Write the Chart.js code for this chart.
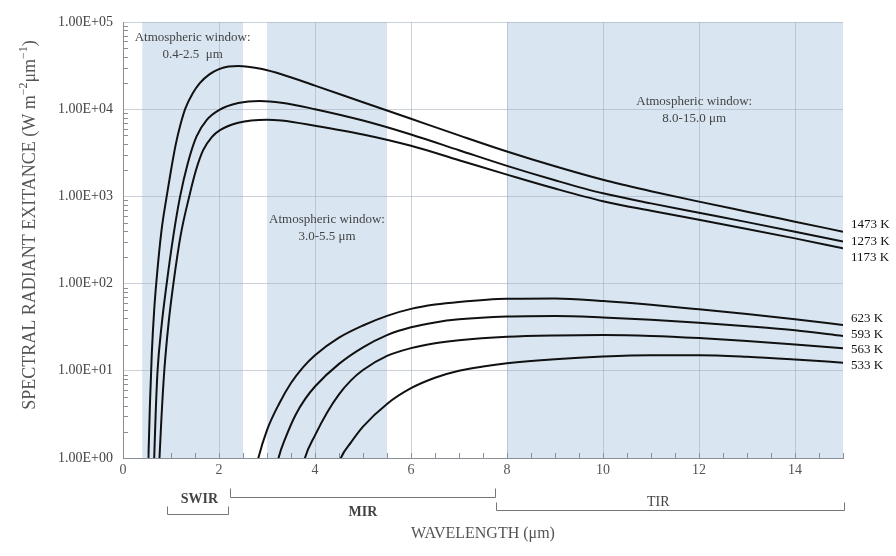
<!DOCTYPE html>
<html>
<head>
<meta charset="utf-8">
<script src="https://cdn.jsdelivr.net/npm/chart.js@4.4.1/dist/chart.umd.min.js"></script>
<style>
  body { margin: 0; background: #fff; }
  #wrap { width: 896px; height: 556px; }
</style>
</head>
<body>
<div id="wrap"><canvas id="chart" width="896" height="556"></canvas></div>
<script>
"use strict";

/* wavelength (um) and spectral radiant exitance */
var wl1473 = [0.50, 0.53, 0.56, 0.60, 0.65, 0.70, 0.80, 0.91, 1.00, 1.10, 1.20, 1.30, 1.45, 1.60, 1.80, 2.00, 2.20, 2.40, 2.60, 2.90, 3.30, 4.00, 5.00, 6.00, 7.00, 8.00, 9.00, 10.0, 11.0, 12.0, 13.0, 14.0, 15.0];
var m1473  = [0.25, 1, 3.98, 15.8, 50.1, 112, 398, 1000, 1995, 3981, 6761, 10230, 15140, 19950, 25120, 28840, 30900, 31260, 30760, 28840, 25120, 18620, 12020, 7762, 5012, 3273, 2213, 1549, 1148, 871, 668, 513, 394];

var wl1273 = [0.62, 0.65, 0.68, 0.72, 0.80, 0.91, 1.05, 1.19, 1.35, 1.53, 1.75, 2.00, 2.40, 2.85, 3.30, 4.00, 5.00, 6.00, 7.00, 8.00, 9.00, 10.0, 11.0, 12.0, 13.0, 14.0, 15.0];
var m1273  = [0.32, 1, 3.16, 10, 31.6, 100, 355, 1000, 2399, 4842, 7586, 9772, 11750, 12450, 11890, 10000, 7413, 5129, 3388, 2239, 1531, 1084, 832, 649, 507, 394, 303];

var wl1173 = [0.73, 0.76, 0.80, 0.86, 0.95, 1.05, 1.20, 1.38, 1.52, 1.67, 1.85, 2.02, 2.40, 3.00, 3.30, 4.00, 5.00, 6.00, 7.00, 8.00, 9.00, 10.0, 11.0, 12.0, 13.0, 14.0, 15.0];
var m1173  = [0.4, 1, 2.82, 10, 35.5, 100, 355, 1000, 1995, 3388, 4786, 5754, 7000, 7586, 7413, 6457, 5129, 3802, 2600, 1778, 1230, 881, 684, 540, 424, 330, 254];

var wl623 = [2.72, 2.82, 3.00, 3.25, 3.50, 3.75, 4.00, 4.50, 5.00, 5.50, 6.00, 6.50, 7.00, 8.00, 9.00, 10.0, 11.0, 12.0, 13.0, 14.0, 15.0];
var m623  = [0.56, 1, 2.09, 4.17, 7.24, 10.96, 15.1, 24.0, 33.1, 42.7, 51.3, 57.5, 61.7, 67.0, 67.6, 63.1, 57.1, 50.7, 44.7, 38.9, 33.5];

var wl593 = [3.16, 3.24, 3.40, 3.60, 3.80, 4.00, 4.50, 5.00, 5.50, 6.00, 6.50, 7.00, 8.00, 9.00, 10.0, 11.0, 12.0, 13.0, 14.0, 15.0];
var m593  = [0.6, 1, 1.78, 3.16, 4.79, 6.61, 12.0, 18.6, 25.7, 31.6, 35.9, 38.9, 41.9, 42.5, 40.9, 38.5, 35.6, 32.5, 29.2, 25.1];

var wl563 = [3.70, 3.79, 4.00, 4.25, 4.50, 4.75, 5.00, 5.50, 6.00, 6.50, 7.00, 8.00, 9.00, 10.0, 11.0, 12.0, 13.0, 14.0, 15.0];
var m563  = [0.6, 1, 1.82, 3.31, 5.37, 7.76, 10.2, 14.8, 18.2, 20.7, 22.4, 24.5, 25.4, 25.7, 25.1, 23.7, 21.9, 20.0, 18.1];

var wl533 = [4.42, 4.54, 4.75, 5.00, 5.50, 6.00, 6.50, 7.00, 7.50, 8.00, 9.00, 10.0, 11.0, 12.0, 13.0, 14.0, 15.0];
var m533  = [0.6, 1, 1.51, 2.29, 4.17, 6.31, 8.32, 10.0, 11.2, 12.2, 13.6, 14.6, 15.1, 15.1, 14.5, 13.5, 12.4];

var tempLabels = ["1473 K", "1273 K", "1173 K", "623 K", "593 K", "563 K", "533 K"];
var tempLabelAt = [470, 302, 198, 40, 25.7, 17.3, 11.4];

var windows = [[0.4, 2.5], [3.0, 5.5], [8.0, 15.0]];
var windowText = ["0.4-2.5  \u03bcm", "3.0-5.5 \u03bcm", "8.0-15.0 \u03bcm"];
var windowTextAt = [[1.45, 67000], [4.25, 536], [11.9, 12100]];

var xTicks = [0, 2, 4, 6, 8, 10, 12, 14];
var yTicks = [1, 10, 100, 1000, 10000, 100000];

var SERIF = "'Liberation Serif', 'DejaVu Serif', serif";

function pts(xs, ys) {
    var out = [];
    for (var i = 0; i < xs.length; i++) out.push({ x: xs[i], y: ys[i] });
    return out;
}

function curve(xs, ys) {
    return {
        data: pts(xs, ys),
        borderColor: "#111",
        borderWidth: 2,
        pointRadius: 0,
        fill: false,
        cubicInterpolationMode: "monotone"
    };
}

function sci(v) {
    var e = Math.round(Math.log10(v));
    return "1.00E+" + (e < 10 ? "0" + e : e);
}

// shaded atmospheric windows, below the grid
var shading = {
    id: "shading",
    beforeDraw: function (chart) {
        var ctx = chart.ctx, x = chart.scales.x, a = chart.chartArea;
        ctx.save();
        ctx.fillStyle = "#d9e6f2";
        windows.forEach(function (w) {
            var x0 = x.getPixelForValue(w[0]), x1 = x.getPixelForValue(w[1]);
            ctx.fillRect(x0, a.top, x1 - x0, a.bottom - a.top);
        });
        ctx.restore();
    }
};

// ticks, labels, brackets, titles
var extras = {
    id: "extras",
    afterDraw: function (chart) {
        var ctx = chart.ctx, x = chart.scales.x, y = chart.scales.y, a = chart.chartArea;
        ctx.save();

        // minor ticks
        ctx.strokeStyle = "#8a8f96";
        ctx.lineWidth = 1;
        ctx.beginPath();
        for (var d = 0; d < 5; d++) {
            for (var m = 2; m < 10; m++) {
                var py = Math.round(y.getPixelForValue(m * Math.pow(10, d))) + 0.5;
                ctx.moveTo(a.left, py); ctx.lineTo(a.left + 5, py);
            }
        }
        for (var t = 0.5; t <= 15; t += 0.5) {
            var px = Math.round(x.getPixelForValue(t)) + 0.5;
            ctx.moveTo(px, a.bottom); ctx.lineTo(px, a.bottom - 5);
        }
        ctx.stroke();

        // window notes
        ctx.fillStyle = "#444";
        ctx.font = "13px " + SERIF;
        ctx.textAlign = "center";
        ctx.textBaseline = "middle";
        windowTextAt.forEach(function (p, i) {
            var cx = x.getPixelForValue(p[0]), cy = y.getPixelForValue(p[1]);
            ctx.fillText("Atmospheric window:", cx, cy);
            ctx.fillText(windowText[i], cx, cy + 17);
        });

        // temperature labels
        ctx.fillStyle = "#111";
        ctx.textAlign = "left";
        tempLabels.forEach(function (s, i) {
            ctx.fillText(s, a.right + 8, y.getPixelForValue(tempLabelAt[i]));
        });

        // band brackets
        function bracket(l0, l1, by, h) {
            var x0 = Math.round(x.getPixelForValue(l0)) + 0.5, x1 = Math.round(x.getPixelForValue(l1)) + 0.5;
            var yy = a.bottom + by + 0.5;
            ctx.beginPath();
            ctx.moveTo(x0, yy - h); ctx.lineTo(x0, yy); ctx.lineTo(x1, yy); ctx.lineTo(x1, yy - h);
            ctx.stroke();
        }
        ctx.strokeStyle = "#777";
        bracket(0.91, 2.19, 56, 8);
        bracket(2.23, 7.75, 39, 9);
        bracket(7.77, 15.02, 52, 8);

        ctx.fillStyle = "#444";
        ctx.textAlign = "center";
        ctx.font = "bold 14px " + SERIF;
        ctx.fillText("SWIR", x.getPixelForValue(1.59), a.bottom + 41);
        ctx.fillText("MIR", x.getPixelForValue(5.0), a.bottom + 54);
        ctx.font = "14px " + SERIF;
        ctx.fillText("TIR", x.getPixelForValue(11.15), a.bottom + 44);

        // axis titles
        ctx.fillStyle = "#555";
        ctx.font = "16px " + SERIF;
        ctx.fillText("WAVELENGTH (\u03bcm)", (a.left + a.right) / 2, 534);

        var parts = [["SPECTRAL RADIANT EXITANCE (W m", 0], ["\u22122", 1], ["\u03bcm", 0], ["\u22121", 1], [")", 0]];
        var big = "18px " + SERIF, small = "12px " + SERIF, total = 0;
        parts.forEach(function (p) { ctx.font = p[1] ? small : big; total += ctx.measureText(p[0]).width; });
        ctx.translate(30, 225);
        ctx.rotate(-Math.PI / 2);
        ctx.textAlign = "left";
        var cx = -total / 2;
        parts.forEach(function (p) {
            ctx.font = p[1] ? small : big;
            ctx.fillText(p[0], cx, p[1] ? -6 : 0);
            cx += ctx.measureText(p[0]).width;
        });
        ctx.restore();
    }
};

new Chart(document.getElementById("chart"), {
    type: "line",
    data: {
        datasets: [
            curve(wl1473, m1473), curve(wl1273, m1273), curve(wl1173, m1173),
            curve(wl623, m623), curve(wl593, m593), curve(wl563, m563), curve(wl533, m533)
        ]
    },
    options: {
        responsive: false,
        animation: false,
        layout: { padding: { top: 22, right: 53, left: 0, bottom: 0 } },
        plugins: { legend: { display: false }, tooltip: { enabled: false } },
        scales: {
            x: {
                type: "linear",
                min: 0, max: 15,
                afterBuildTicks: function (s) { s.ticks = xTicks.map(function (v) { return { value: v }; }); },
                ticks: { color: "#555", font: { family: SERIF, size: 14 }, padding: 4 },
                grid: { color: "rgba(160,172,186,0.55)", drawTicks: false },
                border: { color: "#8a8f96" },
                afterFit: function (s) { s.height = 98; }
            },
            y: {
                type: "logarithmic",
                min: 1, max: 100000,
                afterBuildTicks: function (s) { s.ticks = yTicks.map(function (v) { return { value: v }; }); },
                ticks: { color: "#444", font: { family: SERIF, size: 14 }, padding: 10, callback: function (v) { return sci(v); } },
                grid: { color: "rgba(160,172,186,0.55)", drawTicks: false },
                border: { color: "#8a8f96" },
                afterFit: function (s) { s.width = 123; }
            }
        }
    },
    plugins: [shading, extras]
});
</script>
</body>
</html>
